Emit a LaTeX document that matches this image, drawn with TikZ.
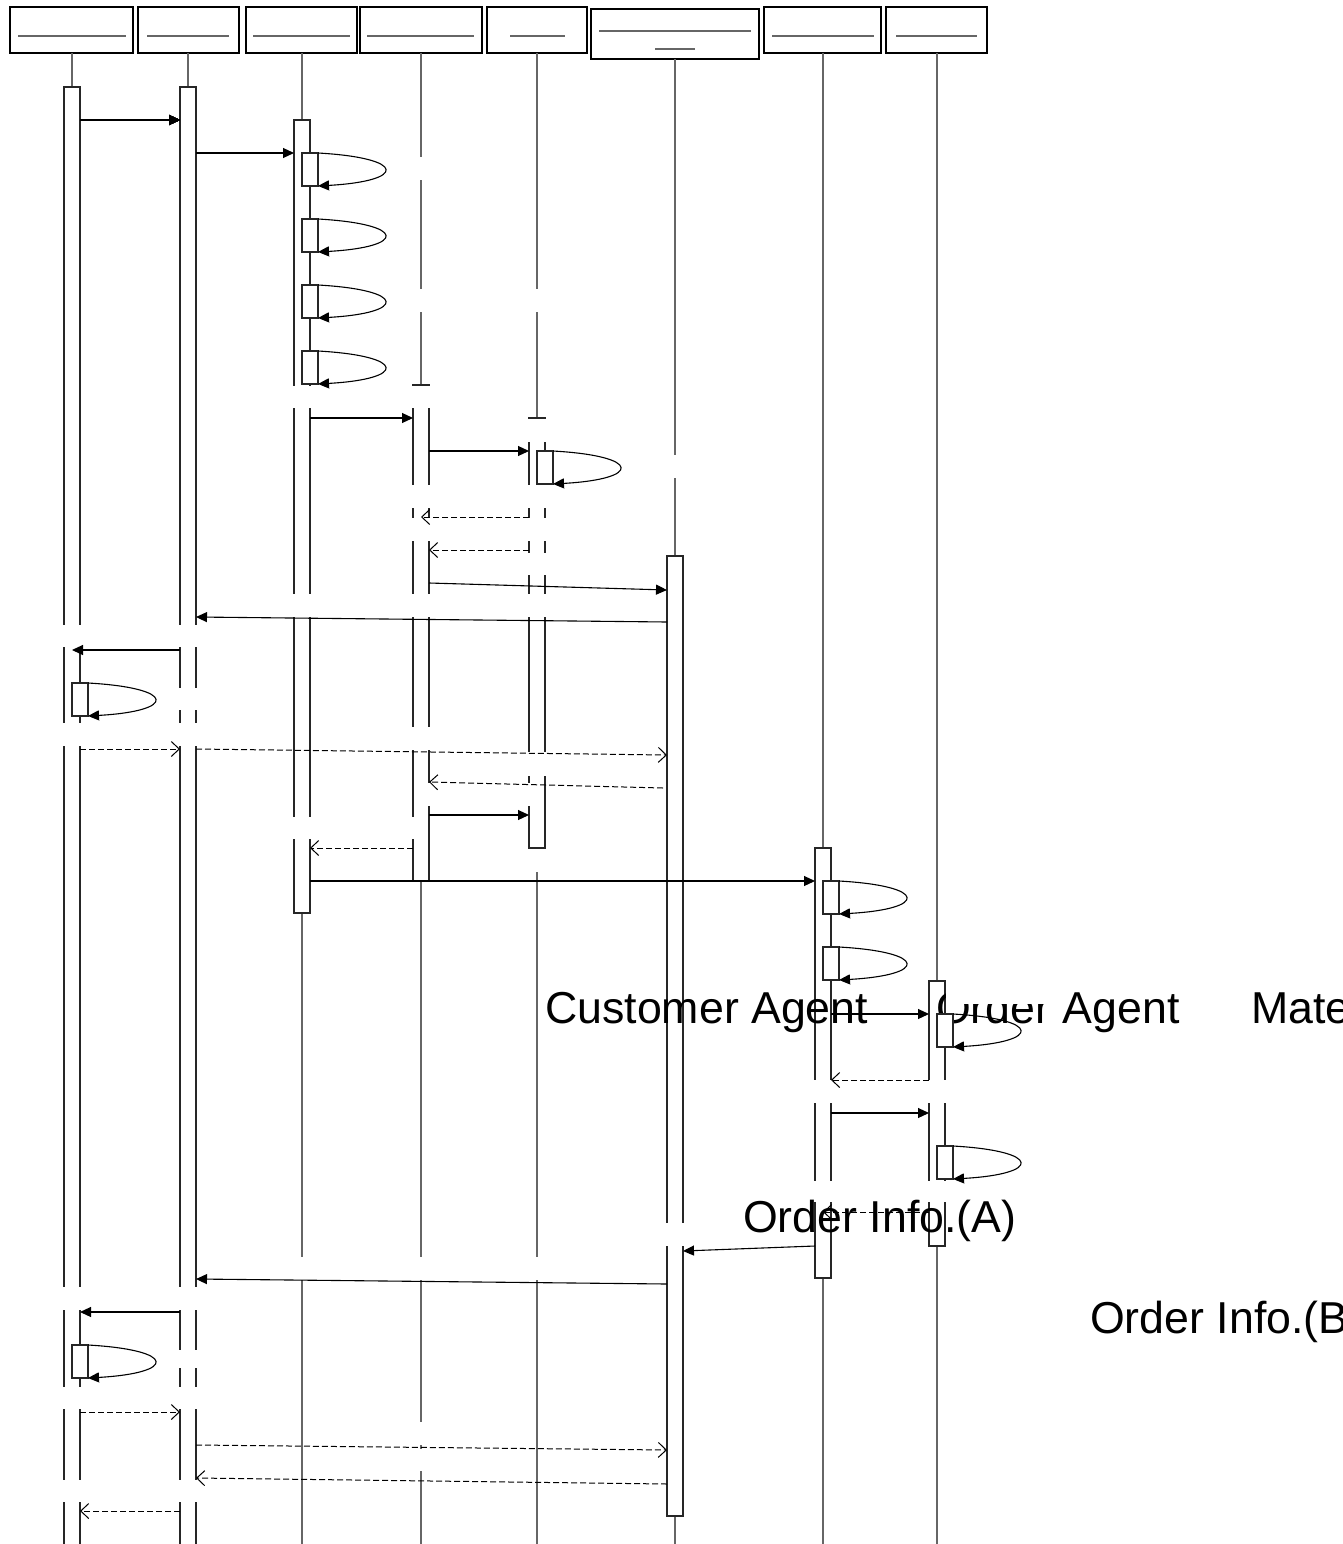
\documentclass[tikz,border=0pt]{standalone}
\usepackage{fontspec}
\setmainfont{Liberation Sans}
\usetikzlibrary{arrows.meta}
\tikzset{
  headbox/.style={draw=black, line width=1.1pt},
  life/.style={draw=black!60, line width=1.1pt},
  actbar/.style={draw=black!85, fill=white, line width=1.1pt},
  blank/.style={fill=white},
  msg/.style={draw=black, line width=1.1pt, -{Triangle[length=11pt,width=10pt]}},
  reply/.style={draw=black, line width=1pt, dash pattern=on 6pt off 3pt, -{Straight Barb[length=8pt,width=15pt]}},
  bigtext/.style={inner sep=0pt, anchor=base west, font=\fontsize{44.7pt}{50pt}\selectfont}
}
\newcommand{\selfcall}[2]{%
  \draw[actbar] (#1,#2) rectangle ++(16,33);
  \draw[msg] (#1+16,#2) .. controls (#1+105,#2+5) and (#1+105,#2+28) .. (#1+16,#2+33);
}
\begin{document}
\begin{tikzpicture}[x=1pt,y=-1pt]
\useasboundingbox (0,0) rectangle (1342,1544);
% heads
\foreach \a/\b/\c/\d in {10/133/18/126, 138/239/147/229, 246/357/253/350, 360/482/367/474, 487/587/510/565, 764/881/772/874, 886/987/896/977}{
  \draw[headbox] (\a,7) rectangle (\b,53);
  \draw[life] (\c,36) -- (\d,36);
}
\draw[headbox] (591,9) rectangle (759,59);
\draw[life] (599,31) -- (751,31);
\draw[life] (655,49) -- (695,49);
% lifelines
\foreach \x/\y in {72/53, 188/53, 302/53, 421/53, 537/53, 675/59, 823/53, 937/53}
  \draw[life] (\x,\y) -- (\x,1560);
% activations
\draw[actbar] (64,87) rectangle (80,1560);
\draw[actbar] (180,87) rectangle (196,1560);
\draw[actbar] (294,120) rectangle (310,913);
\draw[actbar] (413,385) rectangle (429,881);
\draw[actbar] (529,418) rectangle (545,848);
\draw[actbar] (667,556) rectangle (683,1516);
\draw[actbar] (815,848) rectangle (831,1278);
\draw[actbar] (929,981) rectangle (945,1246);
% breaks in the lines
\foreach \a/\b/\c/\d in {330/445/157/180, 330/555/289/312, 560/690/455/478, 286/445/386/408,
  440/560/419/442, 405/555/485/508, 405/555/518/541, 440/560/553/575, 286/560/594/617,
  55/205/625/647, 100/205/688/710, 55/205/723/746, 400/440/727/750, 440/560/752/776,
  425/535/783/806, 286/420/817/839, 480/620/849/872, 805/955/1080/1103, 805/955/1181/1202,
  655/740/1223/1246, 286/560/1257/1280, 55/205/1287/1310, 100/205/1350/1368,
  55/205/1387/1409, 400/440/1422/1445, 400/440/1449/1471, 55/205/1480/1502}
  \fill[blank] (\a,\c) rectangle (\b,\d);
% stray names
\node[bigtext] (cust) at (545,1023) {Customer Agent};
\node[bigtext] (ord) at (936,1023) {Order Agent};
\node[bigtext] (mat) at (1251,1023) {Mate};
\fill[blank] (946,985) rectangle (1055,1004);
\node[bigtext] (infoA) at (743,1232) {Order Info.(A)};
\node[bigtext] (infoB) at (1090,1333) {Order Info.(B};
% self calls
\foreach \x/\y in {302/153, 302/219, 302/285, 302/351, 537/451, 72/683, 823/881, 823/947, 937/1014, 937/1146, 72/1345}
  \selfcall{\x}{\y}
% calls
\draw[msg] (80,120) -- (180,120);
\draw[msg] (196,153) -- (294,153);
\draw[msg] (310,418) -- (413,418);
\draw[msg] (429,451) -- (529,451);
\draw[reply] (529,517) -- (421,517);
\draw[reply] (529,550) -- (429,550);
\draw[msg] (429,583) -- (667,590);
\draw[msg] (667,622) -- (196,617);
\draw[msg] (180,650) -- (72,650);
\draw[reply] (80,749) -- (180,749);
\draw[reply] (196,749) -- (667,755);
\draw[reply] (663,788) -- (429,782);
\draw[msg] (429,815) -- (529,815);
\draw[reply] (413,848) -- (310,848);
\draw[msg] (310,881) -- (815,881);
\draw[msg] (831,1014) -- (929,1014);
\draw[reply] (929,1080) -- (831,1080);
\draw[msg] (831,1113) -- (929,1113);
\draw[reply] (929,1212) -- (823,1212);
\draw[msg] (815,1246) -- (683,1251);
\draw[msg] (667,1284) -- (196,1279);
\draw[msg] (180,1312) -- (80,1312);
\draw[reply] (80,1412) -- (180,1412);
\draw[reply] (196,1445) -- (667,1450);
\draw[reply] (667,1484) -- (196,1478);
\draw[reply] (180,1511) -- (80,1511);
\end{tikzpicture}
\end{document}
